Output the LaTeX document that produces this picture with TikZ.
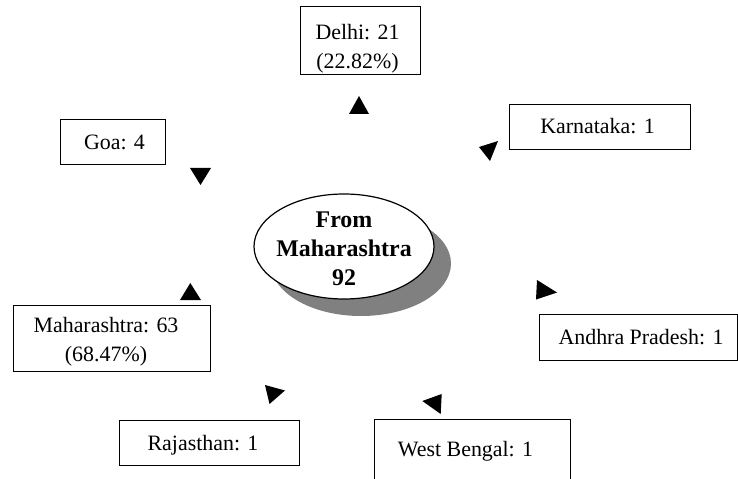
\documentclass[tikz,border=0pt]{standalone}
\usepackage{fontspec}
\setmainfont{Liberation Serif}
\usetikzlibrary{shapes.geometric,shadows}

% text of a box, moved by (#1,#2) from the box centre
\newcommand{\statetext}[3]{\raisebox{#2}[0pt][0pt]{\rlap{\hspace*{#1}\makebox[0pt]{\begin{tabular}[t]{@{}c@{}}#3\end{tabular}}}}}

\tikzset{
	statebox/.style={draw, line width=1bp, inner sep=0pt, font=\fontsize{22}{29}\selectfont},
	headfill/.style={fill=black},
}

\begin{document}
\begin{tikzpicture}[x=1bp, y=-1bp]
	\useasboundingbox (0,0) rectangle (738,479);
	\clip (0,0) rectangle (738,479);
	\node [ellipse, draw, fill=white, line width=1.2bp, minimum width=180bp, minimum height=105bp, inner sep=0pt,
		font=\fontsize{24}{29}\selectfont\bfseries,
		drop shadow={shadow xshift=17bp, shadow yshift=-17bp, fill=gray, opacity=1}] (From) at (344,246.5) {\statetext{0bp}{18.7bp}{From\\Maharashtra\\92}};
	\node [statebox, minimum width=120bp, minimum height=68bp] (Delhi) at (360,41) {\statetext{-2.5bp}{1.7bp}{Delhi: 21\\(22.82\%)}};
	\node [statebox, minimum width=105bp, minimum height=45bp] (Goa) at (112.5,142.5) {\statetext{2bp}{-7.2bp}{Goa: 4}};
	\node [statebox, minimum width=181bp, minimum height=45bp] (Karnataka) at (599.5,127.5) {\statetext{-2bp}{-6.5bp}{Karnataka: 1}};
	\node [statebox, minimum width=196bp, minimum height=66bp] (Maharashtra) at (112,338) {\statetext{-6bp}{5.7bp}{Maharashtra: 63\\(68.47\%)}};
	\node [statebox, minimum width=180bp, minimum height=45bp] (Rajasthan) at (209,442.5) {\statetext{-6bp}{-7.5bp}{Rajasthan: 1}};
	\node [statebox, minimum width=198bp, minimum height=46bp] (Andhra) at (638.3,337) {\statetext{2.7bp}{-7bp}{Andhra Pradesh: 1}};
	\node [statebox, minimum width=196bp, minimum height=66bp] (Bengal) at (472,452) {\statetext{-6.5bp}{-4.7bp}{West Bengal: 1}};
	\fill [headfill] (349,114) -- (359,96) -- (369,114) -- cycle;
	\fill [headfill] (479,147) -- (498,141) -- (490,161) -- cycle;
	\fill [headfill] (190,168) -- (211,168) -- (200.5,185) -- cycle;
	\fill [headfill] (180,300) -- (190.3,283) -- (201,300) -- cycle;
	\fill [headfill] (265,385) -- (285,390.5) -- (269.5,404) -- cycle;
	\fill [headfill] (537,280) -- (557,292.5) -- (536,299.5) -- cycle;
	\fill [headfill] (422.3,401) -- (441.7,394) -- (440.7,414) -- cycle;
\end{tikzpicture}
\end{document}
